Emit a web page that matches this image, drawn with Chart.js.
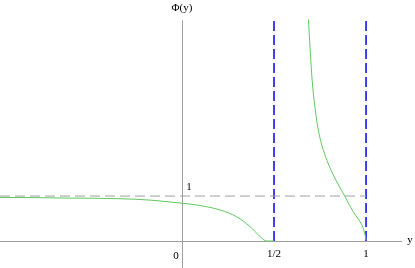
<!DOCTYPE html>
<html>
<head>
<meta charset="utf-8">
<script src="https://cdn.jsdelivr.net/npm/chart.js@4"></script>
<style>
  html, body { margin: 0; padding: 0; background: #fff; }
  #wrap { width: 415px; height: 268px; }
</style>
</head>
<body>
<div id="wrap"><canvas id="chart" width="415" height="268"></canvas></div>
<script>
// left branch of Phi(y), y < 1/2
const leftY = [-0.99, -0.8, -0.63, -0.45, -0.26, -0.174, 0, 0.098, 0.207, 0.297, 0.37, 0.424, 0.46, 0.5];
const leftPhi = [0.97, 0.965, 0.955, 0.95, 0.93, 0.91, 0.84, 0.79, 0.69, 0.54, 0.32, 0.1, 0, 0];

// right branch, between 1/2 and 1
const rightY = [0.687, 0.696, 0.708, 0.723, 0.746, 0.777, 0.822, 0.886, 0.931, 0.977, 0.995, 1.0];
const rightPhi = [4.93, 4.28, 3.54, 2.95, 2.36, 1.91, 1.47, 0.985, 0.65, 0.36, 0.13, 0.02];

// asymptotes and reference level
const asymptotes = [0.5, 1];
const levelOne = 1;
const xTicks = [{ v: 0, t: "0" }, { v: 0.5, t: "1/2" }, { v: 1, t: "1" }];

const xMin = -0.989, xMax = 1.266;
const yMin = -0.6, yMax = 5.36;
const axisTop = 4.91, axisRight = 1.196;

const green = "rgb(95,200,95)";
const blue = "rgb(45,45,245)";
const grey = "rgb(160,160,160)";

const pts = (xs, ys) => xs.map((x, i) => ({ x: x, y: ys[i] }));

const datasets = [
  {
    data: [{ x: xMin, y: levelOne }, { x: 1, y: levelOne }],
    borderColor: grey, borderWidth: 1, borderDash: [10, 5]
  },
  {
    data: pts(leftY, leftPhi),
    borderColor: green, borderWidth: 1, cubicInterpolationMode: "monotone"
  },
  {
    data: pts(rightY, rightPhi),
    borderColor: green, borderWidth: 1, tension: 0.4
  }
];
asymptotes.forEach((a) => {
  datasets.push({
    data: [{ x: a, y: 0 }, { x: a, y: axisTop }],
    borderColor: blue, borderWidth: 1.8, borderDash: [10, 4]
  });
});

// axes and labels drawn with the chart's own scales
const axesPlugin = {
  id: "axes",
  beforeDatasetsDraw(chart) {
    const { ctx, scales: { x, y } } = chart;
    ctx.save();
    ctx.strokeStyle = grey;
    ctx.lineWidth = 1;
    ctx.beginPath();
    const y0 = Math.round(y.getPixelForValue(0)) + 0.5;
    ctx.moveTo(x.getPixelForValue(xMin), y0);
    ctx.lineTo(x.getPixelForValue(axisRight), y0);
    const x0 = Math.round(x.getPixelForValue(0)) + 0.5;
    ctx.moveTo(x0, y.getPixelForValue(axisTop));
    ctx.lineTo(x0, y.getPixelForValue(yMin));
    ctx.stroke();
    ctx.restore();
  },
  afterDraw(chart) {
    const { ctx, scales: { x, y } } = chart;
    ctx.save();
    ctx.fillStyle = "#000";
    ctx.font = "11px 'Liberation Serif', 'Times New Roman', serif";
    ctx.textAlign = "center";
    ctx.textBaseline = "middle";
    const y0 = y.getPixelForValue(0);
    xTicks.forEach((tk) => {
      const px = x.getPixelForValue(tk.v);
      if (tk.v === 0) ctx.fillText(tk.t, px - 6, y0 + 15);
      else ctx.fillText(tk.t, px, y0 + 13);
    });
    ctx.fillText("1", x.getPixelForValue(0) + 7, y.getPixelForValue(levelOne) - 9);
    ctx.fillText("y", x.getPixelForValue(axisRight) + 8, y0 - 1);
    ctx.fillText("\u03a6(y)", x.getPixelForValue(0), y.getPixelForValue(axisTop) - 12);
    ctx.restore();
  }
};

new Chart(document.getElementById("chart"), {
  type: "line",
  data: { datasets: datasets },
  options: {
    responsive: false,
    animation: false,
    devicePixelRatio: 1,
    layout: { padding: 0 },
    elements: { point: { radius: 0 }, line: { fill: false } },
    plugins: { legend: { display: false }, tooltip: { enabled: false } },
    scales: {
      x: { type: "linear", min: xMin, max: xMax, display: false },
      y: { type: "linear", min: yMin, max: yMax, display: false }
    }
  },
  plugins: [axesPlugin]
});
</script>
</body>
</html>
